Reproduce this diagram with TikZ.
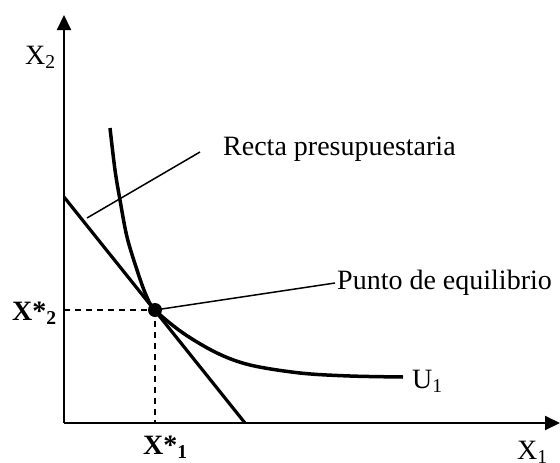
\documentclass[tikz,border=0pt]{standalone}
\usepackage{fontspec}
\setmainfont{Liberation Serif}
\usetikzlibrary{arrows.meta}
\begin{document}
\begin{tikzpicture}[x=1pt,y=-1pt,
  axis/.style={line width=2pt,-{Triangle[length=15pt,width=14pt]}},
  thick line/.style={line width=3.2pt},
  leader/.style={line width=1.5pt},
  guide/.style={line width=1.8pt,dash pattern=on 6pt off 5pt},
  lbl/.style={font=\fontsize{28}{30}\selectfont,inner sep=0pt,anchor=base west}]
\useasboundingbox (0,0) rectangle (560,463);
% axes
\coordinate (O) at (64,423);
\coordinate (ytop) at (64,15);
\coordinate (xend) at (560,423);
\draw[axis] (O) -- (ytop);
\draw[axis] (O) -- (xend);
% labels
\node[lbl] (x2) at (25,64) {X\textsubscript{2}};
\node[lbl] (x1) at (517,459) {X\textsubscript{1}};
\node[lbl] (xs2) at (12,320) {\textbf{X*\textsubscript{2}}};
\node[lbl] (xs1) at (143,454) {\textbf{X*\textsubscript{1}}};
\node[lbl] (recta) at (223,155) {Recta presupuestaria};
\node[lbl] (punto) at (337,289) {Punto de equilibrio};
\node[lbl] (u1) at (412,388) {U\textsubscript{1}};
% equilibrium
\coordinate (E) at (155,310);
\coordinate (Ey) at (64,310);
\coordinate (Ex) at (155,423);
\draw[guide] (Ey) -- (E);
\draw[guide] (E) -- (Ex);
% budget line
\coordinate (B1) at (64,197);
\coordinate (B2) at (245,423);
\draw[thick line] (B1) -- (B2);
% indifference curve
\draw[line width=3.5pt] plot[smooth,tension=0.55] coordinates {(110,128) (115,170) (120,200) (127,237) (137,270) (146,295) (155,310) (183,333) (217,353) (250,365) (300,373) (350,376) (403,377)};
% leaders
\coordinate (L1) at (87,218);
\coordinate (L1e) at (200,152);
\draw[leader] (L1) -- (L1e);
\coordinate (L2e) at (335,283);
\draw[leader] (E) -- (L2e);
\fill (E) circle (7pt);
\end{tikzpicture}
\end{document}
